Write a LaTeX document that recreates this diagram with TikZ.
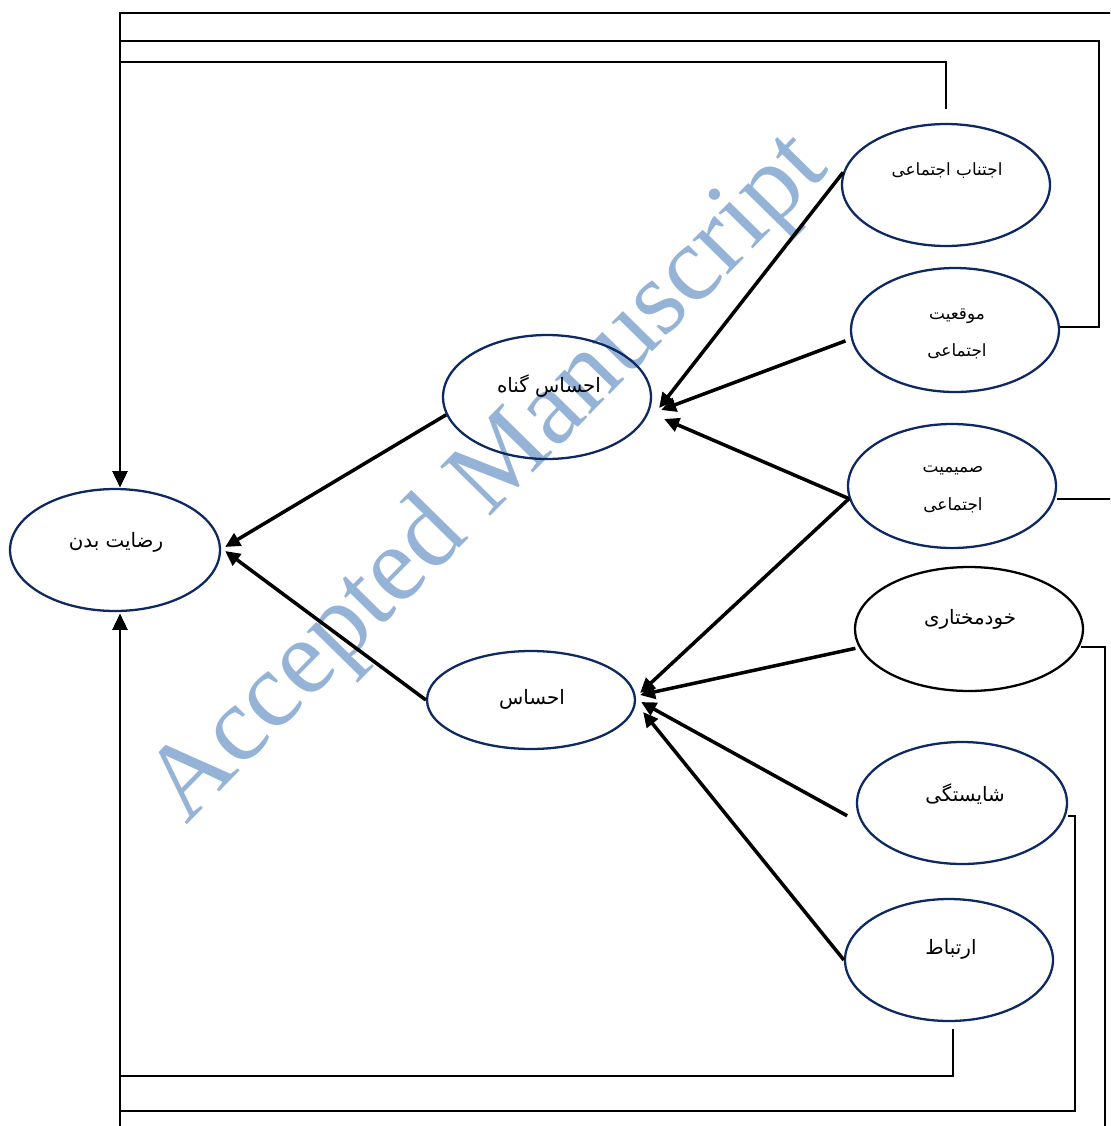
\documentclass[tikz,border=0pt]{standalone}
\usepackage{fontspec}
\TeXXeTstate=1
\setmainfont{Liberation Serif}
\newfontfamily\arabicfont[Script=Arabic]{DejaVu Sans}
\usetikzlibrary{arrows.meta,shapes.geometric,calc}
\definecolor{navy}{RGB}{14,40,98}
\definecolor{wmblue}{RGB}{149,179,215}
\begin{document}
\begin{tikzpicture}[x=0.02cm,y=-0.02cm,
  ell/.style={ellipse, draw=navy, line width=1.3pt, inner sep=0pt},
  lblL/.style={font=\arabicfont\fontsize{11.3}{13}\selectfont, inner sep=0pt},
  lblS/.style={font=\arabicfont\fontsize{9.6}{11}\selectfont, inner sep=0pt},
  big/.style={line width=2pt, -{Triangle[length=8.5pt,width=8pt]}},
  fb/.style={line width=0.85pt, -{Triangle[length=9pt,width=8.5pt]}},
  wmark/.style={text=wmblue, font=\fontsize{61}{70}\selectfont, rotate=45.5}]
\useasboundingbox (0,0) rectangle (1110,1126);
\clip (0,0) rectangle (1110,1126);
\fill[white] (0,0) rectangle (1110,1126);

% watermark
\node[wmark] (wm) at (490,480) {Accepted Manuscript};

% ellipses
\node[ell, minimum width=4.2cm, minimum height=2.44cm] (body) at (115,550) {};
\node[ell, minimum width=4.16cm, minimum height=2.48cm] (guilt) at (547,397) {};
\node[ell, minimum width=4.16cm, minimum height=1.96cm] (feel) at (531,700) {};
\node[ell, minimum width=4.16cm, minimum height=2.44cm] (avoid) at (946,185) {};
\node[ell, minimum width=4.16cm, minimum height=2.48cm] (status) at (955,330) {};
\node[ell, minimum width=4.16cm, minimum height=2.48cm] (intim) at (952,486) {};
\node[ell, draw=black, minimum width=4.56cm, minimum height=2.48cm] (auton) at (969,629) {};
\node[ell, minimum width=4.2cm, minimum height=2.44cm] (compet) at (962,803) {};
\node[ell, minimum width=4.16cm, minimum height=2.44cm] (relat) at (949,960) {};

% labels
\node[lblL] (bodyt) at (116,542) {\beginR رضایت بدن\endR};
\node[lblL] (guiltt) at (549,386) {\beginR احساس گناه\endR};
\node[lblL] (feelt) at (532,699) {\beginR احساس\endR};
\node[lblS] (avoidt) at (947,171) {\beginR اجتناب اجتماعی\endR};
\node[lblS] (statust1) at (957,316) {\beginR موقعیت\endR};
\node[lblS] (statust2) at (957,351) {\beginR اجتماعی\endR};
\node[lblS] (intimt1) at (953,470) {\beginR صمیمیت\endR};
\node[lblS] (intimt2) at (953,505) {\beginR اجتماعی\endR};
\node[lblL] (autont) at (970,619) {\beginR خودمختاری\endR};
\node[lblL] (compett) at (965,794) {\beginR شایستگی\endR};
\node[lblL] (relatt) at (951,949) {\beginR ارتباط\endR};

% helper coordinates at the target
\coordinate (bodyT) at ($(body.north)+(5,-1)$);
\coordinate (bodyB) at ($(body.south)+(5,2)$);

% main connectors
\draw[big] (guilt.190) -- ($(body.east)+(4,-3)$);
\draw[big] (feel.west) -- ($(body.east)+(4,1)$);
\draw[big] (avoid.173) -- ($(guilt.east)+(7,11)$);
\draw[big] ($(status.186)+(-6,0)$) -- ($(guilt.east)+(9,13)$);
\draw[big] (intim.187) -- ($(guilt.east)+(12,22)$);
\draw[big] (intim.187) -- ($(feel.east)+(4,-7)$);
\draw[big] ($(auton.190)+(-4,0)$) -- ($(feel.east)+(4,-5)$);
\draw[big] ($(compet.187)+(-11,0)$) -- ($(feel.east)+(5,2)$);
\draw[big] (relat.west) -- ($(feel.east)+(7,12)$);

% feedback lines
\draw[fb] ($(avoid.north)+(0,-14)$) -- ++(0,-47) -| (bodyT);
\draw[fb] ($(status.east)+(0,-3)$) -- ++(39,0) -- ++(0,-286) -| (bodyT);
\draw[fb] ($(intim.east)+(0,13)$) -- ++(64,0) -- ++(0,-486) -| (bodyT);
\draw[fb] ($(auton.east)+(-3,18)$) -- ++(24,0) -- ++(0,500) -| (bodyB);
\draw[fb] ($(compet.east)+(0,13)$) -- ++(7,0) -- ++(0,295) -| (bodyB);
\draw[fb] ($(relat.south)+(4,7)$) -- ++(0,47) -| (bodyB);
\end{tikzpicture}
\end{document}
